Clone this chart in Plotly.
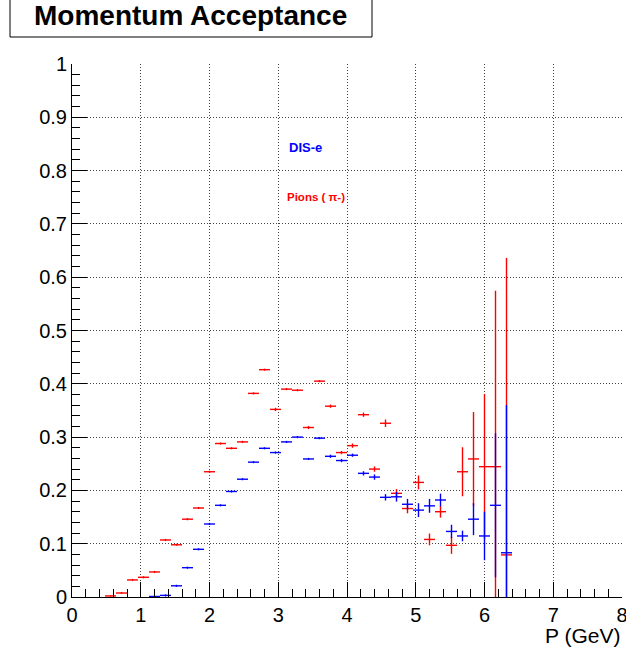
import plotly.graph_objects as go

# 50 momentum bins between 0 and 8 GeV
p_min, p_max, n_bins = 0.0, 8.0, 50
bin_width = (p_max - p_min) / n_bins
bin_centers = [p_min + bin_width * (k + 0.5) for k in range(n_bins)]

# acceptance per bin (None = empty bin)
pion_acc = [None, None, None, 0.002, 0.0075, 0.032, 0.037, 0.047, 0.107, 0.098,
            0.146, 0.167, 0.235, 0.288, 0.279, 0.291, 0.382, 0.4265, 0.352, 0.390,
            0.388, 0.318, 0.405, 0.358, 0.271, 0.284, 0.342, 0.240, 0.326, 0.1945,
            0.166, 0.215, 0.108, 0.160, 0.097, 0.235, 0.259, 0.2445, 0.2445, 0.079] + [None] * 10
pion_err = [0, 0, 0, 0.001, 0.002, 0.002, 0.002, 0.002, 0.002, 0.002,
            0.002, 0.002, 0.002, 0.002, 0.002, 0.002, 0.002, 0.002, 0.003, 0.002,
            0.002, 0.003, 0.002, 0.003, 0.003, 0.004, 0.004, 0.005, 0.007, 0.008,
            0.009, 0.013, 0.011, 0.011, 0.016, 0.046, 0.088, 0.136, 0.330, 0.557] + [0] * 10

dis_acc = [None, None, None, None, None, None, None, 0.001, 0.003, 0.021,
           0.055, 0.0895, 0.137, 0.172, 0.198, 0.221, 0.253, 0.279, 0.271, 0.291,
           0.300, 0.259, 0.298, 0.264, 0.256, 0.266, 0.232, 0.225, 0.187, 0.188,
           0.174, 0.163, 0.171, 0.182, 0.123, 0.1145, 0.146, 0.1145, 0.172, 0.083] + [None] * 10
dis_err = [0, 0, 0, 0, 0, 0, 0, 0.001, 0.002, 0.002,
           0.002, 0.002, 0.002, 0.002, 0.002, 0.002, 0.002, 0.002, 0.002, 0.002,
           0.002, 0.002, 0.002, 0.003, 0.003, 0.003, 0.004, 0.005, 0.006, 0.009,
           0.010, 0.013, 0.013, 0.012, 0.0125, 0.010, 0.030, 0.0455, 0.135, 0.277] + [0] * 10


def hist_trace(values, errors, color, name):
    xs, ys, es = [], [], []
    for c, v, e in zip(bin_centers, values, errors):
        if v is None:
            continue
        xs.append(c)
        ys.append(v)
        es.append(e)
    return go.Scatter(
        x=xs, y=ys, mode="markers", name=name,
        marker=dict(size=1, color="rgba(0,0,0,0)"),
        error_x=dict(type="constant", value=bin_width / 2, width=0,
                     thickness=1.4, color=color),
        error_y=dict(type="data", array=es, width=0,
                     thickness=1.4, color=color),
        showlegend=False,
    )


fig = go.Figure()
fig.add_trace(hist_trace(pion_acc, pion_err, "#ff0000", "Pions"))
fig.add_trace(hist_trace(dis_acc, dis_err, "#0000ff", "DIS-e"))

axis_font = dict(family="Liberation Sans, Arial, sans-serif", size=20, color="black")

fig.update_xaxes(
    range=[p_min, p_max], dtick=1, tick0=0, automargin=False,
    showline=True, linecolor="black", linewidth=1,
    ticks="inside", ticklen=15, tickcolor="black", tickwidth=1,
    tickfont=axis_font, ticklabeloverflow="allow",
    showgrid=True, gridcolor="#444444", gridwidth=1, griddash="1px,2px",
    zeroline=False,
    minor=dict(ticks="inside", ticklen=8, dtick=0.2, tickcolor="black", showgrid=False),
)
fig.update_yaxes(
    range=[0, 1], dtick=0.1, tick0=0, automargin=False,
    showline=True, linecolor="black", linewidth=1,
    ticks="inside", ticklen=15, tickcolor="black", tickwidth=1,
    tickfont=axis_font, ticklabeloverflow="allow",
    showgrid=True, gridcolor="#444444", gridwidth=1, griddash="1px,2px",
    zeroline=False,
    minor=dict(ticks="inside", ticklen=8, dtick=0.02, tickcolor="black", showgrid=False),
)

fig.update_layout(
    width=626, height=647,
    margin=dict(l=72, r=4, t=64, b=50),
    paper_bgcolor="white", plot_bgcolor="white",
    font=dict(family="Liberation Sans, Arial, sans-serif", color="black"),
    shapes=[dict(type="rect", xref="paper", yref="paper",
                 x0=-62 / 550, x1=300 / 550, y0=1 + 27 / 533, y1=1 + 65 / 533,
                 line=dict(color="black", width=1), fillcolor="white")],
    annotations=[
        dict(text="<b>Momentum Acceptance</b>", xref="paper", yref="paper",
             x=118 / 550, y=1 + 48 / 533, xanchor="center", yanchor="middle",
             showarrow=False, font=dict(size=28, color="black")),
        dict(text="P (GeV)", xref="paper", yref="paper", x=1, y=0,
             xanchor="right", yanchor="top", yshift=-25, showarrow=False,
             font=dict(size=21, color="black")),
        dict(text="<b>DIS-e</b>", x=3.13, y=0.844, xanchor="left", yanchor="middle",
             showarrow=False, font=dict(size=13, color="#0000ff")),
        dict(text="<b>Pions ( π-)</b>", x=3.10, y=0.750, xanchor="left", yanchor="middle",
             showarrow=False, font=dict(size=11.5, color="#ff0000")),
    ],
)

fig.write_html("out.html")
